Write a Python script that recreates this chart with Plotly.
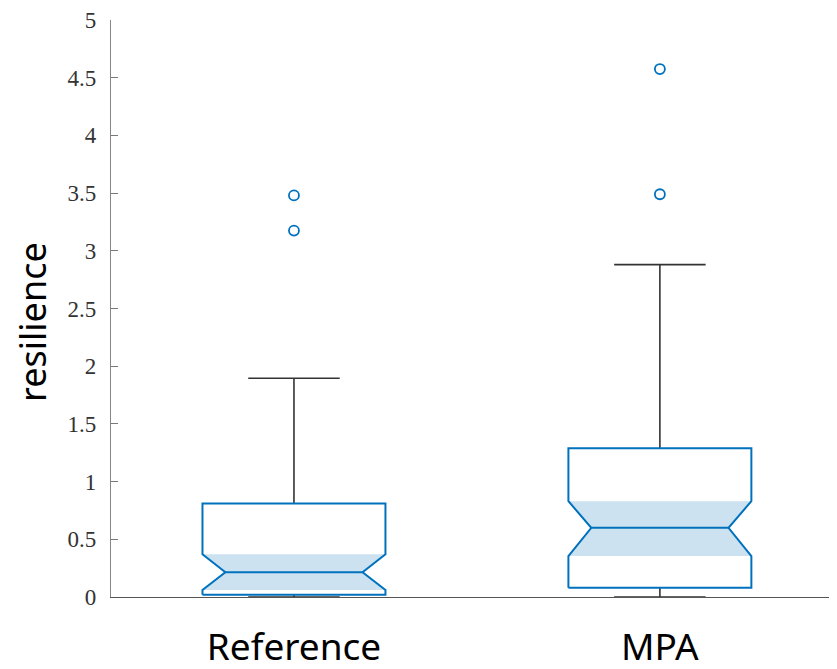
import plotly.graph_objects as go

# ---- data ----
groups = ["Reference", "MPA"]
positions = [1, 2]
q1 = [0.02, 0.08]
median = [0.215, 0.60]
q3 = [0.81, 1.29]
notch_lo = [0.06, 0.355]
notch_hi = [0.37, 0.83]
whisker_lo = [0.0, 0.0]
whisker_hi = [1.895, 2.88]
outliers = [[3.175, 3.48], [3.49, 4.575]]

y_ticks = [0, 0.5, 1, 1.5, 2, 2.5, 3, 3.5, 4, 4.5, 5]
y_title = "resilience"

BLUE = "#0072BD"
FILL = "rgb(204,226,240)"
DARK = "#333333"

half_w = 0.25
notch_w = 0.1875
cap_w = 0.125

fig = go.Figure()

for i, x in enumerate(positions):
    # shaded notch region
    fx = [x - half_w, x - notch_w, x - half_w, x + half_w, x + notch_w, x + half_w, x - half_w]
    fy = [notch_hi[i], median[i], notch_lo[i], notch_lo[i], median[i], notch_hi[i], notch_hi[i]]
    fig.add_trace(go.Scatter(x=fx, y=fy, mode="lines", fill="toself", fillcolor=FILL,
                             line=dict(width=0), hoverinfo="skip", showlegend=False))

for i, x in enumerate(positions):
    # whiskers
    fig.add_trace(go.Scatter(
        x=[x, x, None, x - cap_w, x + cap_w, None, x, x, None, x - cap_w, x + cap_w],
        y=[q3[i], whisker_hi[i], None, whisker_hi[i], whisker_hi[i], None,
           q1[i], whisker_lo[i], None, whisker_lo[i], whisker_lo[i]],
        mode="lines", line=dict(color=DARK, width=1.6), hoverinfo="skip", showlegend=False))
    # box outline with notch
    bx = [x - half_w, x - half_w, x - notch_w, x - half_w, x - half_w,
          x + half_w, x + half_w, x + notch_w, x + half_w, x + half_w, x - half_w]
    by = [q1[i], notch_lo[i], median[i], notch_hi[i], q3[i],
          q3[i], notch_hi[i], median[i], notch_lo[i], q1[i], q1[i]]
    fig.add_trace(go.Scatter(x=bx, y=by, mode="lines", line=dict(color=BLUE, width=2),
                             hoverinfo="skip", showlegend=False))
    # median
    fig.add_trace(go.Scatter(x=[x - notch_w, x + notch_w], y=[median[i], median[i]], mode="lines",
                             line=dict(color=BLUE, width=2), hoverinfo="skip", showlegend=False))
    # outliers
    fig.add_trace(go.Scatter(x=[x] * len(outliers[i]), y=outliers[i], mode="markers",
                             marker=dict(symbol="circle-open", size=10, color=BLUE,
                                         line=dict(width=1.8, color=BLUE)),
                             showlegend=False))

fig.update_layout(
    width=829, height=661,
    margin=dict(l=103, r=0, t=12, b=72),
    plot_bgcolor="white", paper_bgcolor="white",
    showlegend=False,
    annotations=[dict(text=y_title, textangle=-90, xref="paper", yref="paper",
                      x=-0.108, y=0.476, xanchor="center", yanchor="middle", showarrow=False,
                      font=dict(family="Noto Sans", size=36, color="black"))],
)
fig.update_xaxes(
    range=[0.5, 2.484], tickvals=positions, ticktext=groups,
    tickfont=dict(family="Noto Sans", size=37, color="black"),
    ticks="", showgrid=False, zeroline=False, automargin=False,
    showline=True, linecolor="#555555", linewidth=1.2,
    ticklabelstandoff=17, ticklabeloverflow="allow",
)
fig.update_yaxes(
    range=[0, 5], tickvals=y_ticks, ticktext=[f"{v:g}" for v in y_ticks],
    tickfont=dict(family="Liberation Serif", size=23, color="#333333"),
    ticks="inside", ticklen=7, tickcolor="#777777", tickwidth=1,
    showgrid=False, zeroline=False, automargin=False,
    showline=True, linecolor="#888888", linewidth=1.2,
    ticklabelstandoff=9, ticklabeloverflow="allow",
)

fig.write_html("out.html")
